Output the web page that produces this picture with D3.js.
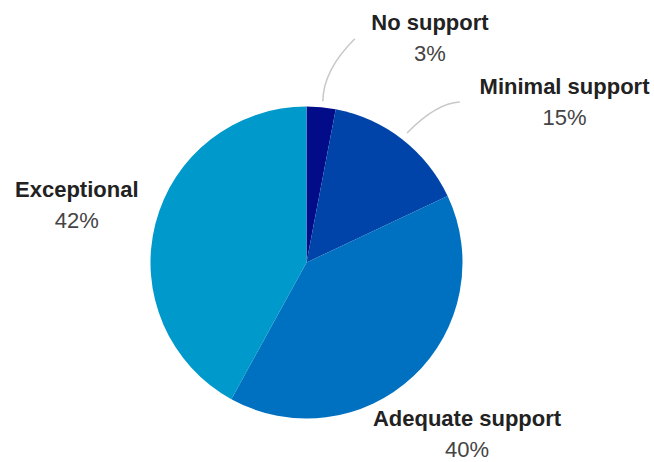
<!DOCTYPE html>
<html>
<head>
<meta charset="utf-8">
<script src="https://cdn.jsdelivr.net/npm/d3@7"></script>
<style>
  body { margin: 0; background: #fff; }
  svg { display: block; }
</style>
</head>
<body>
<svg id="pie" width="654" height="462"></svg>
<script>
// slice names, values, colours (clockwise from 12 o'clock)
var categories = ["No support", "Minimal support", "Adequate support", "Exceptional"];
var values = [3, 15, 40, 42];
var colors = ["#020b88", "#0043a9", "#0070c1", "#0099cb"];

var width = 654, height = 462;
var cx = 306.5, cy = 262.5, radius = 156;

// label baseline point, as [degrees added to slice middle, distance from centre]
var labelPos = [[22.6, 263], [19.1, 308], [-1.3, 229], [1.6, 239]];
// leader lines for the small slices: start, control, end ([deg shift, dist])
var leaders = [
  [[0.4, 162], [-0.5, 193], [6.8, 229]],
  [[0, 164], [1.4, 206], [5.9, 222]],
  null,
  null
];

var svg = d3.select("#pie");
var g = svg.append("g").attr("transform", "translate(" + [cx, cy] + ")");

var pie = d3.pie().sort(null).value(function(d) { return d; });
var arcs = pie(values);

var arc = d3.arc().innerRadius(0).outerRadius(radius);

g.selectAll("path.slice")
  .data(arcs)
  .enter().append("path")
  .attr("class", "slice")
  .attr("d", arc)
  .style("fill", function(d, i) { return colors[i]; });

function polar(a, r) {
  return [Math.sin(a) * r, -Math.cos(a) * r];
}
function midAngle(d) {
  return (d.startAngle + d.endAngle) / 2;
}
var rad = Math.PI / 180;

// leader lines
arcs.forEach(function(d, i) {
  if (!leaders[i]) return;
  var pts = leaders[i].map(function(p) {
    return polar(midAngle(d) + p[0] * rad, p[1]);
  });
  var p = d3.path();
  p.moveTo(pts[0][0], pts[0][1]);
  p.quadraticCurveTo(pts[1][0], pts[1][1], pts[2][0], pts[2][1]);
  g.append("path")
    .attr("d", p.toString())
    .style("fill", "none")
    .style("stroke", "#c8c8c8")
    .style("stroke-width", 1.5);
});

var labels = g.selectAll("g.label")
  .data(arcs)
  .enter().append("g")
  .attr("class", "label")
  .attr("transform", function(d, i) {
    return "translate(" + polar(midAngle(d) + labelPos[i][0] * rad, labelPos[i][1]) + ")";
  });

labels.append("text")
  .attr("text-anchor", "middle")
  .style("font-family", "'Liberation Sans', Arial, sans-serif")
  .style("font-weight", "bold")
  .style("font-size", "22px")
  .style("fill", "#222")
  .text(function(d, i) { return categories[i]; });

labels.append("text")
  .attr("text-anchor", "middle")
  .attr("y", 31)
  .style("font-family", "'Liberation Sans', Arial, sans-serif")
  .style("font-size", "22px")
  .style("fill", "#444")
  .text(function(d) { return d.value + "%"; });
</script>
</body>
</html>
